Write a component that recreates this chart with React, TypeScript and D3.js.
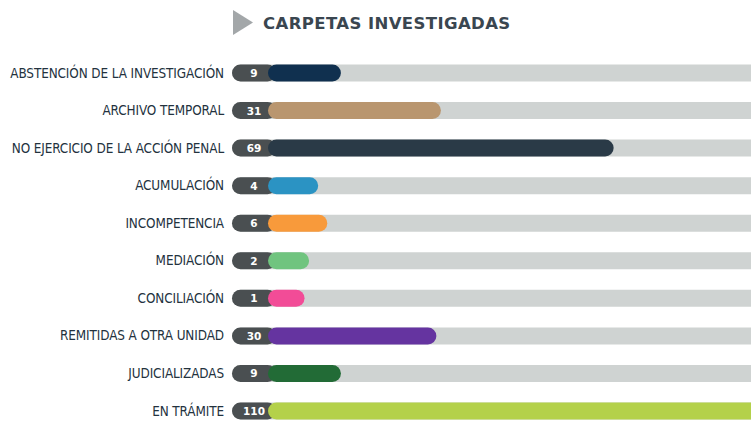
import { useMemo } from "react";
import * as d3 from "d3";

const WIDTH = 751;
const HEIGHT = 422;

const categories = [
  "ABSTENCIÓN DE LA INVESTIGACIÓN",
  "ARCHIVO TEMPORAL",
  "NO EJERCICIO DE LA ACCIÓN PENAL",
  "ACUMULACIÓN",
  "INCOMPETENCIA",
  "MEDIACIÓN",
  "CONCILIACIÓN",
  "REMITIDAS A OTRA UNIDAD",
  "JUDICIALIZADAS",
  "EN TRÁMITE",
];
const values = [9, 31, 69, 4, 6, 2, 1, 30, 9, 110];
const colors = [
  "#10304f",
  "#b9966f",
  "#2a3a47",
  "#2b93c3",
  "#f89a3b",
  "#70c47f",
  "#f24c97",
  "#6534a0",
  "#226b36",
  "#b4d14a",
];

const TRACK_X = 232;
const PILL_END = 276;
const BAR_X = 268;
const BAR_H = 17;

export default function App() {
  const y = useMemo(
    () => d3.scalePoint<string>().domain(categories).range([73, 411]),
    []
  );
  // bars are drawn with a visible head start so small counts stay readable
  const x = useMemo(
    () => d3.scaleLinear().domain([0, 110]).range([300, 800]),
    []
  );

  return (
    <svg
      width={WIDTH}
      height={HEIGHT}
      style={{ position: "absolute", top: 0, left: 0, background: "#fff" }}
    >
      {/* title */}
      <path d="M233,10 L253,22.5 L233,35 Z" fill="#a3a7a9" />
      <text
        x={263}
        y={28.5}
        fontFamily="'DejaVu Sans'"
        fontWeight={700}
        fontSize={16.5}
        letterSpacing={0.4}
        fill="#3a4650"
      >
        CARPETAS INVESTIGADAS
      </text>

      {categories.map((c, i) => {
        const cy = y(c) as number;
        const top = cy - BAR_H / 2;
        return (
          <g key={c}>
            <text
              x={224}
              y={cy + 4.5}
              textAnchor="end"
              fontFamily="'DejaVu Sans Condensed', 'DejaVu Sans'"
              fontSize={13.4}
              letterSpacing={-0.1}
              fill="#23323e"
            >
              {c}
            </text>
            <rect
              x={TRACK_X}
              y={top}
              width={WIDTH + 20 - TRACK_X}
              height={BAR_H}
              rx={BAR_H / 2}
              fill="#cfd3d2"
            />
            <rect
              x={TRACK_X}
              y={top}
              width={PILL_END - TRACK_X}
              height={BAR_H}
              rx={BAR_H / 2}
              fill="#4a4f51"
            />
            <rect
              x={BAR_X}
              y={top}
              width={x(values[i]) - BAR_X}
              height={BAR_H}
              rx={BAR_H / 2}
              fill={colors[i]}
            />
            <text
              x={254}
              y={cy + 4}
              textAnchor="middle"
              fontFamily="'DejaVu Sans'"
              fontWeight={700}
              fontSize={10.5}
              fill="#ffffff"
            >
              {values[i]}
            </text>
          </g>
        );
      })}
    </svg>
  );
}
